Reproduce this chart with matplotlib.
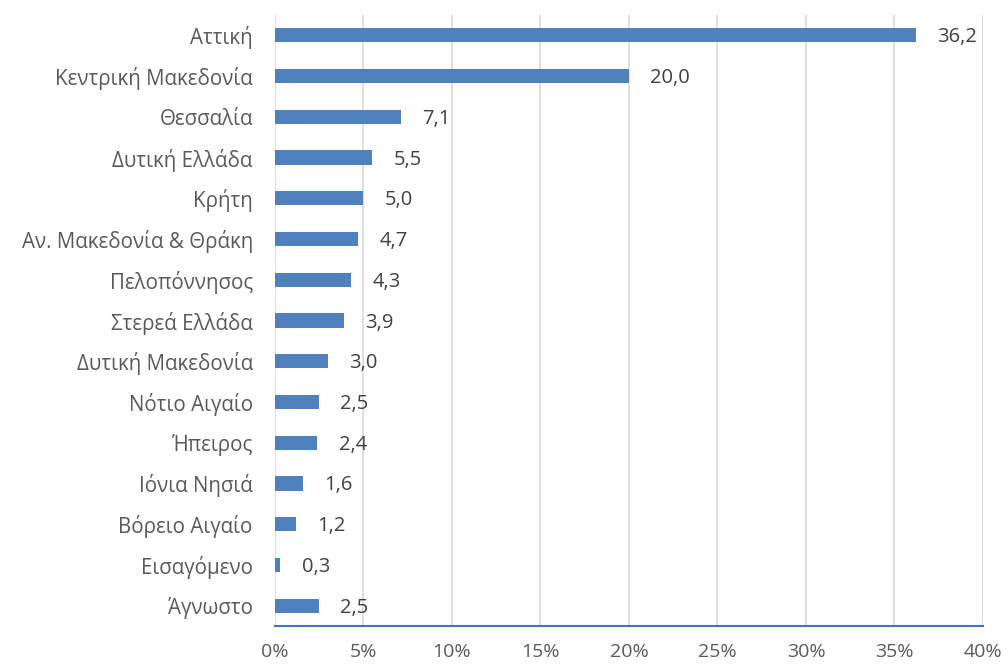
import matplotlib.pyplot as plt
from matplotlib.ticker import FuncFormatter

regions = ['Αττική', 'Κεντρική Μακεδονία', 'Θεσσαλία', 'Δυτική Ελλάδα', 'Κρήτη',
           'Αν. Μακεδονία & Θράκη', 'Πελοπόννησος', 'Στερεά Ελλάδα', 'Δυτική Μακεδονία',
           'Νότιο Αιγαίο', 'Ήπειρος', 'Ιόνια Νησιά', 'Βόρειο Αιγαίο', 'Εισαγόμενο', 'Άγνωστο']
values = [36.2, 20.0, 7.1, 5.5, 5.0, 4.7, 4.3, 3.9, 3.0, 2.5, 2.4, 1.6, 1.2, 0.3, 2.5]
xticks = [0, 5, 10, 15, 20, 25, 30, 35, 40]

plt.rcParams['font.family'] = ['Open Sans', 'DejaVu Sans']

fig = plt.figure(figsize=(10.08, 6.66), dpi=100)
ax = fig.add_axes([0.2728, 0.060, 0.7024, 0.9175])

ypos = list(range(len(regions)))
ax.barh(ypos, values, height=0.35, color='#4f81bd', zorder=3)

for y, v in zip(ypos, values):
    ax.text(v + 1.2, y + 0.05, f'{v:.1f}'.replace('.', ','), va='center', ha='left',
            fontsize=14.5, color='#404040')

ax.set_xlim(0, 40)
ax.set_ylim(len(regions) - 0.5, -0.5)
ax.set_yticks(ypos)
ax.set_yticklabels(regions, fontsize=14.8)
ax.set_xticks(xticks)
ax.xaxis.set_major_formatter(FuncFormatter(lambda x, p: f'{x:.0f}%'))

ax.grid(axis='x', color='#d9d9d9', linewidth=1.2, zorder=0)
for s in ['top', 'right', 'left']:
    ax.spines[s].set_visible(False)
ax.spines['bottom'].set_color('#4472c4')
ax.spines['bottom'].set_linewidth(1.5)
ax.tick_params(axis='both', length=0, colors='#595959')
ax.tick_params(axis='x', pad=12, labelsize=14)
ax.tick_params(axis='y', pad=16)

fig.savefig('out.png', dpi=100)
